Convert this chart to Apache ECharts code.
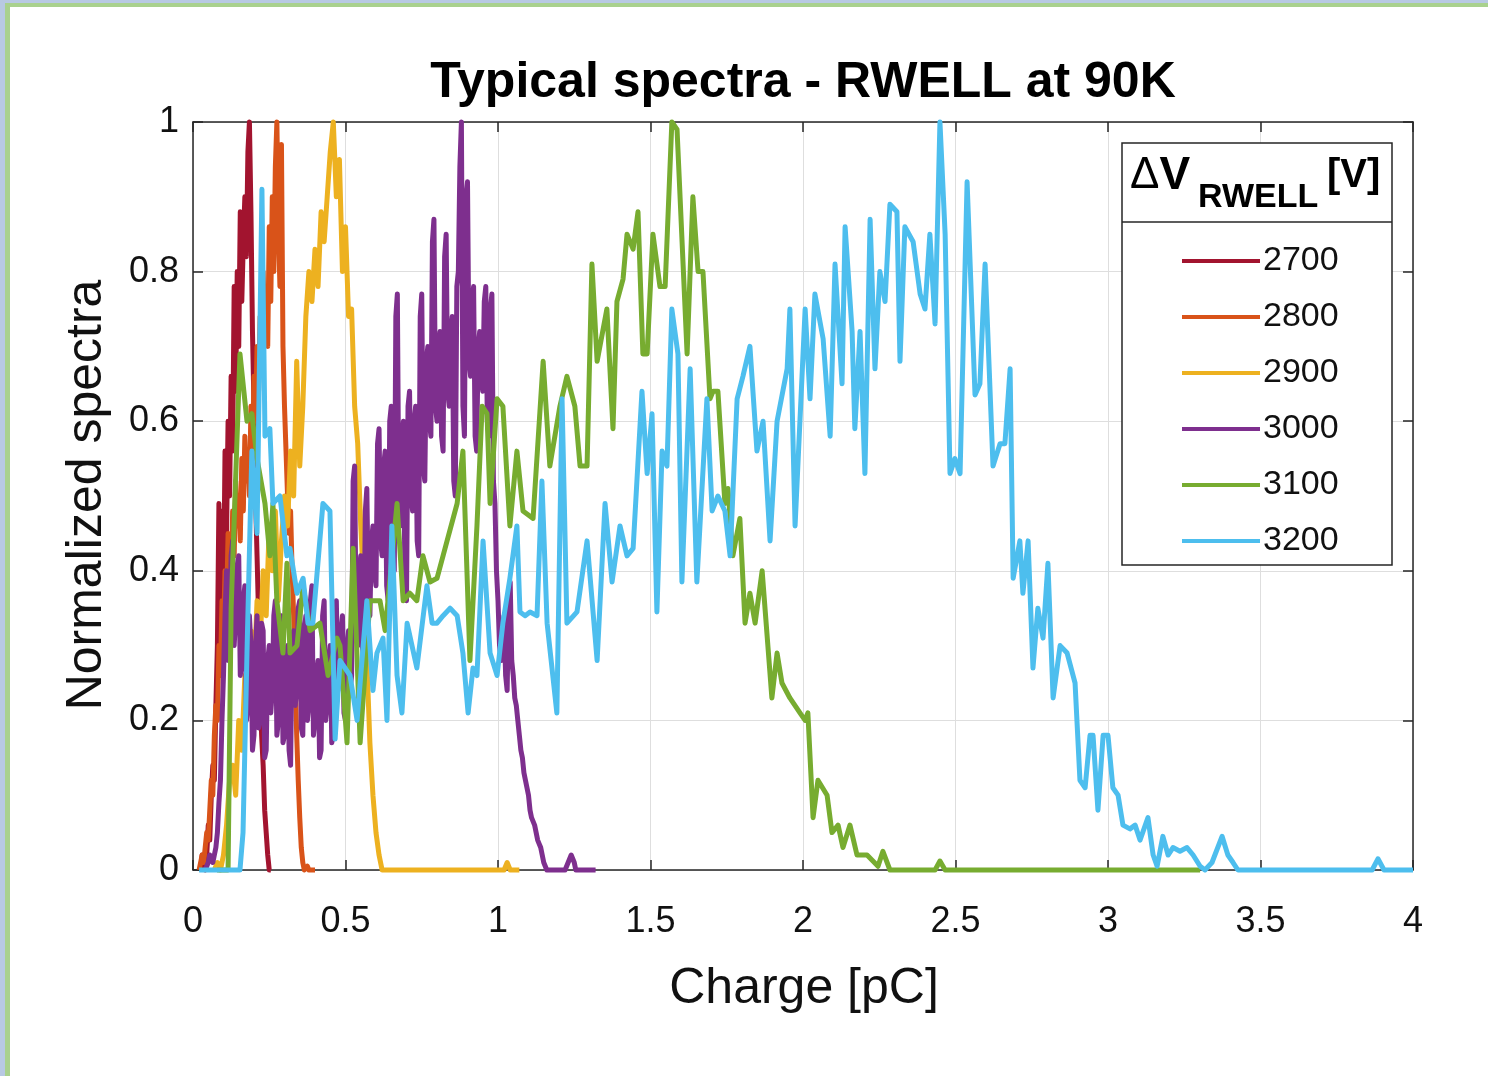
<!DOCTYPE html>
<html>
<head>
<meta charset="utf-8">
<script src="https://cdn.jsdelivr.net/npm/echarts@6/dist/echarts.min.js"></script>
<style>
  html, body { margin: 0; padding: 0; background: #ffffff; }
  #chart { width: 1488px; height: 1076px; }
</style>
</head>
<body>
<div id="chart"></div>
<script>
// ---- Data -------------------------------------------------------------
const voltages = ['2700', '2800', '2900', '3000', '3100', '3200'];
const xTickValues = [0, 0.5, 1, 1.5, 2, 2.5, 3, 3.5, 4];
const yTickValues = [0, 0.2, 0.4, 0.6, 0.8, 1];

// Histogram spectra with fixed bin width: first bin centre and bin width [pC]
const start2700 = 0.025, width2700 = 0.005;
const spectrum2700 = [0.00,0.02,0.02,0.00,0.02,0.06,0.04,0.10,0.14,0.12,0.22,0.30,0.49,0.28,0.48,0.36,
  0.56,0.45,0.60,0.50,0.66,0.56,0.78,0.64,0.80,0.70,0.88,0.76,0.84,0.90,0.82,0.96,1.00,0.88,0.72,0.62,
  0.50,0.42,0.34,0.26,0.18,0.14,0.08,0.05,0.02,0.00,0.00];

const start2800 = 0.02, width2800 = 0.005;
const spectrum2800 = [0.00,0.01,0.02,0.01,0.03,0.05,0.04,0.08,0.12,0.10,0.18,0.22,0.20,0.30,0.26,0.36,
  0.32,0.40,0.35,0.45,0.40,0.38,0.48,0.42,0.52,0.46,0.50,0.44,0.55,0.48,0.58,0.52,0.56,0.50,0.62,0.56,
  0.66,0.60,0.70,0.64,0.74,0.68,0.80,0.72,0.78,0.70,0.86,0.76,0.90,0.80,0.94,1.00,0.86,0.78,0.97,0.70,
  0.62,0.56,0.50,0.45,0.48,0.40,0.34,0.26,0.18,0.12,0.07,0.03,0.01,0.00,0.00,0.005,0.00,0.00,0.00,0.00,0.00];

const start2900 = 0.07, width2900 = 0.01;
const spectrum2900 = [0.00,0.01,0.00,0.02,0.06,0.12,0.14,0.10,0.20,0.16,0.26,0.22,0.32,0.26,0.36,0.30,
  0.40,0.34,0.46,0.40,0.48,0.36,0.44,0.50,0.46,0.56,0.50,0.68,0.54,0.62,0.74,0.80,0.76,0.83,0.78,0.88,
  0.84,0.90,0.96,1.00,0.90,0.95,0.80,0.86,0.74,0.75,0.62,0.57,0.46,0.38,0.28,0.17,0.10,0.05,0.02,0.00,
  0,0,0,0,0,0,0,0,0,0,0,0,0,0,0,0,0,0,0,0,0,0,0,0,0,0,0,0,0,0,0,0,0,0,0,0,0,0,0,0,
  0.01,0,0,0,0];

const start3000 = 0.04, width3000 = 0.005;
const spectrum3000 = [0.00,0.00,0.01,0.02,0.02,0.01,0.01,0.03,0.05,0.09,0.12,0.20,0.26,0.34,0.40,0.28,
  0.30,0.42,0.44,0.30,0.34,0.40,0.42,0.26,0.28,0.36,0.38,0.20,0.22,0.34,0.30,0.16,0.18,0.30,0.34,0.19,
  0.20,0.33,0.32,0.15,0.16,0.28,0.30,0.21,0.24,0.34,0.36,0.18,0.20,0.32,0.34,0.17,0.18,0.28,0.30,0.16,
  0.14,0.30,0.32,0.22,0.24,0.35,0.36,0.19,0.18,0.32,0.34,0.20,0.22,0.36,0.38,0.18,0.20,0.26,0.28,0.15,
  0.16,0.34,0.36,0.20,0.22,0.28,0.30,0.17,0.18,0.34,0.36,0.24,0.26,0.32,0.34,0.21,0.20,0.30,0.32,0.24,
  0.26,0.52,0.54,0.32,0.30,0.40,0.42,0.30,0.28,0.48,0.51,0.36,0.34,0.44,0.46,0.40,0.38,0.57,0.59,0.44,
  0.42,0.54,0.56,0.38,0.36,0.60,0.62,0.42,0.40,0.74,0.77,0.48,0.46,0.58,0.60,0.38,0.36,0.62,0.64,0.50,
  0.48,0.60,0.62,0.44,0.42,0.74,0.77,0.54,0.52,0.68,0.70,0.60,0.58,0.84,0.87,0.62,0.60,0.70,0.72,0.58,
  0.56,0.82,0.85,0.64,0.62,0.72,0.74,0.52,0.50,0.78,0.80,0.94,1.00,0.62,0.58,0.90,0.92,0.68,0.66,0.76,
  0.78,0.58,0.56,0.70,0.72,0.66,0.64,0.76,0.78,0.60,0.58,0.75,0.77,0.52,0.49,0.40,0.36,0.30,0.28,0.32,
  0.34,0.26,0.24,0.36,0.385,0.28,0.26,0.23,0.22,0.20,0.18,0.16,0.15,0.13,0.12,0.11,0.10,0.08,0.07,0.065,
  0.06,0.05,0.04,0.035,0.03,0.02,0.01,0.005,0.00,0.00,0.00,0.00,0.00,0.00,0.00,0.00,0.00,0.00,0.00,0.00,
  0.00,0.00,0.01,0.015,0.02,0.015,0.01,0.00,0.00,0.00,0.00,0.00,0.00,0.00,0.00,0.00,0.00,0.00,0.00,0.00,
  0.00];

// Spectra sampled at explicit charges [pC]
const charge3100 = [0.079,0.115,0.125,0.154,0.177,0.193,0.210,0.236,0.252,0.262,0.275,0.295,0.308,0.318,
  0.341,0.361,0.384,0.416,0.443,0.472,0.482,0.505,0.525,0.548,0.580,0.613,0.630,0.669,0.689,0.711,0.734,
  0.754,0.777,0.800,0.833,0.866,0.885,0.908,0.931,0.948,0.964,0.974,0.997,1.016,1.039,1.062,1.082,1.115,
  1.148,1.170,1.203,1.226,1.252,1.269,1.292,1.308,1.325,1.357,1.377,1.390,1.410,1.423,1.443,1.459,1.475,
  1.489,1.508,1.531,1.548,1.570,1.587,1.620,1.639,1.656,1.672,1.695,1.705,1.721,1.744,1.754,1.770,1.793,
  1.810,1.826,1.843,1.866,1.898,1.915,1.931,1.957,1.990,2.007,2.016,2.033,2.049,2.079,2.095,2.115,2.131,
  2.154,2.177,2.210,2.246,2.262,2.285,2.433,2.449,2.466,3.302];
const spectrum3100 = [0.00,0.00,0.35,0.69,0.60,0.61,0.55,0.49,0.42,0.49,0.36,0.29,0.41,0.29,
  0.30,0.38,0.32,0.33,0.26,0.31,0.30,0.17,0.43,0.17,0.36,0.36,0.32,0.49,0.36,0.37,0.36,
  0.42,0.385,0.39,0.44,0.49,0.56,0.28,0.46,0.62,0.61,0.49,0.63,0.62,0.46,0.56,0.48,0.47,
  0.68,0.54,0.62,0.66,0.62,0.54,0.54,0.81,0.68,0.75,0.59,0.76,0.79,0.85,0.83,0.88,0.69,
  0.69,0.85,0.78,0.78,1.00,0.99,0.69,0.90,0.80,0.80,0.63,0.64,0.64,0.49,0.51,0.42,0.47,
  0.33,0.37,0.33,0.40,0.23,0.29,0.25,0.23,0.21,0.20,0.21,0.07,0.12,0.10,0.05,0.06,0.03,
  0.06,0.02,0.02,0.005,0.025,0.00,0.00,0.012,0.00,0.00];

const charge3200 = [0.020,0.154,0.164,0.177,0.193,0.210,0.226,0.236,0.252,0.262,0.285,0.308,0.318,0.341,
  0.361,0.377,0.393,0.426,0.449,0.466,0.482,0.515,0.538,0.570,0.590,0.603,0.623,0.636,0.652,0.669,0.685,
  0.702,0.734,0.767,0.784,0.800,0.820,0.843,0.866,0.885,0.902,0.918,0.931,0.951,0.974,0.997,1.016,1.039,
  1.062,1.072,1.089,1.105,1.128,1.144,1.161,1.193,1.210,1.226,1.259,1.292,1.325,1.351,1.374,1.400,1.423,
  1.443,1.472,1.489,1.505,1.521,1.538,1.554,1.570,1.590,1.603,1.630,1.652,1.685,1.702,1.721,1.744,1.761,
  1.784,1.803,1.826,1.849,1.869,1.892,1.915,1.948,1.957,1.974,2.007,2.023,2.039,2.066,2.089,2.105,2.128,
  2.138,2.161,2.170,2.187,2.203,2.220,2.236,2.252,2.269,2.285,2.308,2.318,2.334,2.361,2.384,2.400,2.416,
  2.433,2.449,2.466,2.482,2.498,2.515,2.538,2.564,2.580,2.597,2.623,2.646,2.662,2.679,2.689,2.711,2.721,
  2.738,2.754,2.770,2.787,2.803,2.820,2.843,2.866,2.892,2.908,2.925,2.941,2.951,2.967,2.984,3.000,3.016,
  3.033,3.049,3.072,3.089,3.105,3.131,3.148,3.161,3.180,3.197,3.213,3.236,3.259,3.279,3.302,3.318,3.341,
  3.374,3.393,3.410,3.426,3.866,3.885,3.905,4.000];
const spectrum3200 = [0.00,0.00,0.05,0.29,0.56,0.45,0.91,0.58,0.59,0.49,0.50,0.42,0.43,0.37,
  0.39,0.33,0.33,0.49,0.48,0.175,0.28,0.26,0.20,0.36,0.24,0.29,0.31,0.20,0.46,0.26,0.21,
  0.33,0.27,0.38,0.33,0.33,0.34,0.35,0.34,0.29,0.21,0.27,0.26,0.44,0.29,0.26,0.33,0.39,
  0.46,0.345,0.34,0.345,0.34,0.52,0.33,0.21,0.63,0.33,0.345,0.44,0.28,0.49,0.385,0.46,0.42,
  0.43,0.64,0.53,0.61,0.345,0.56,0.54,0.75,0.69,0.385,0.67,0.385,0.63,0.48,0.50,0.48,0.42,
  0.63,0.66,0.70,0.56,0.60,0.44,0.60,0.67,0.75,0.46,0.75,0.63,0.77,0.71,0.58,0.81,0.65,
  0.86,0.72,0.59,0.72,0.53,0.87,0.67,0.80,0.76,0.89,0.88,0.68,0.86,0.84,0.77,0.75,0.85,
  0.73,1.00,0.85,0.53,0.55,0.53,0.92,0.635,0.65,0.81,0.54,0.57,0.57,0.67,0.39,0.44,0.37,
  0.44,0.27,0.35,0.31,0.41,0.23,0.30,0.29,0.25,0.12,0.11,0.18,0.18,0.08,0.18,0.18,0.11,
  0.10,0.06,0.055,0.06,0.04,0.07,0.02,0.005,0.045,0.02,0.03,0.025,0.03,0.02,0.005,0.00,0.01,
  0.045,0.02,0.01,0.00,0.00,0.015,0.00,0.00];

// ---- Build series points ----------------------------------------------
function binned(start, width, values) {
  return values.map((v, i) => [+(start + i * width).toFixed(4), v]);
}
function paired(charges, values) {
  return charges.map((q, i) => [q, values[i]]);
}
const seriesData = [
  binned(start2700, width2700, spectrum2700),
  binned(start2800, width2800, spectrum2800),
  binned(start2900, width2900, spectrum2900),
  binned(start3000, width3000, spectrum3000),
  paired(charge3100, spectrum3100),
  paired(charge3200, spectrum3200)
];

// ---- Styling ----------------------------------------------------------
const lineColors = ['#A2142F', '#D95319', '#EDB120', '#7E2F8E', '#77AC30', '#4DBEEE'];
const FONT = '"Liberation Sans", Arial, Helvetica, sans-serif';
const INK = '#262626';
const GRID_C = '#dedede';

const chart = echarts.init(document.getElementById('chart'), null, { renderer: 'canvas' });

const tickFmt = v => String(+v.toFixed(2));

const option = {
  animation: false,
  backgroundColor: '#ffffff',
  color: lineColors,
  grid: { left: 193, right: 75, top: 122, bottom: 206, containLabel: false },
  xAxis: [
    {
      type: 'value', min: xTickValues[0], max: xTickValues[xTickValues.length - 1], interval: 0.5,
      position: 'bottom',
      axisLine: { show: true, onZero: false, lineStyle: { color: INK, width: 1.5 } },
      axisTick: { show: true, inside: true, length: 10, lineStyle: { color: INK, width: 1.5 } },
      axisLabel: { show: true, margin: 34, color: '#111', fontSize: 36, fontFamily: FONT, formatter: tickFmt },
      splitLine: { show: true, lineStyle: { color: GRID_C, width: 1 } }
    },
    {
      type: 'value', min: xTickValues[0], max: xTickValues[xTickValues.length - 1], interval: 0.5,
      position: 'top',
      axisLine: { show: true, onZero: false, lineStyle: { color: INK, width: 1.5 } },
      axisTick: { show: true, inside: true, length: 10, lineStyle: { color: INK, width: 1.5 } },
      axisLabel: { show: false },
      splitLine: { show: false }
    }
  ],
  yAxis: [
    {
      type: 'value', min: yTickValues[0], max: yTickValues[yTickValues.length - 1], interval: 0.2,
      position: 'left',
      axisLine: { show: true, onZero: false, lineStyle: { color: INK, width: 1.5 } },
      axisTick: { show: true, inside: true, length: 10, lineStyle: { color: INK, width: 1.5 } },
      axisLabel: { show: true, margin: 14, color: '#111', fontSize: 36, fontFamily: FONT, formatter: tickFmt },
      splitLine: { show: true, lineStyle: { color: GRID_C, width: 1 } }
    },
    {
      type: 'value', min: yTickValues[0], max: yTickValues[yTickValues.length - 1], interval: 0.2,
      position: 'right',
      axisLine: { show: true, onZero: false, lineStyle: { color: INK, width: 1.5 } },
      axisTick: { show: true, inside: true, length: 10, lineStyle: { color: INK, width: 1.5 } },
      axisLabel: { show: false },
      splitLine: { show: false }
    }
  ],
  legend: {
    show: true,
    orient: 'vertical',
    left: 1177,
    top: 236,
    z: 10,
    icon: 'rect',
    itemWidth: 78,
    itemHeight: 4,
    itemGap: 16,
    selectedMode: false,
    data: voltages,
    textStyle: { fontSize: 34, lineHeight: 40, color: '#111', fontFamily: FONT, padding: [0, 0, 0, -2] }
  },
  graphic: [
    // slide frame
    { type: 'rect', z: 0, silent: true, shape: { x: 0, y: 0, width: 1488, height: 3 }, style: { fill: '#b8c9e3' } },
    { type: 'rect', z: 0, silent: true, shape: { x: 0, y: 3, width: 1488, height: 4 }, style: { fill: '#a9d18e' } },
    { type: 'rect', z: 0, silent: true, shape: { x: 0, y: 0, width: 5, height: 1076 }, style: { fill: '#b8c9e3' } },
    { type: 'rect', z: 0, silent: true, shape: { x: 5, y: 3, width: 5, height: 1073 }, style: { fill: '#a9d18e' } },
    // title
    { type: 'text', z: 10, silent: true, x: 803, y: 83,
      style: { text: 'Typical spectra - RWELL at 90K', fill: '#000', font: 'bold 50px ' + FONT,
               align: 'center', verticalAlign: 'middle' } },
    // axis titles
    { type: 'text', z: 10, silent: true, x: 804, y: 989,
      style: { text: 'Charge [pC]', fill: '#111', font: '50px ' + FONT, align: 'center', verticalAlign: 'middle' } },
    { type: 'text', z: 10, silent: true, x: 87, y: 495, rotation: Math.PI / 2,
      style: { text: 'Normalized spectra', fill: '#111', font: '50px ' + FONT, align: 'center', verticalAlign: 'middle' } },
    // legend box with header
    { type: 'rect', z: 8, silent: true, shape: { x: 1122, y: 143, width: 270, height: 422 },
      style: { fill: '#ffffff', stroke: INK, lineWidth: 1.5 } },
    { type: 'line', z: 9, silent: true, shape: { x1: 1122, y1: 222, x2: 1392, y2: 222 },
      style: { stroke: INK, lineWidth: 1.5 } },
    { type: 'text', z: 10, silent: true, x: 1130, y: 176,
      style: { text: '{d|Δ}{v|V}', verticalAlign: 'middle', align: 'left',
               rich: { d: { fontSize: 44, fontFamily: FONT, fill: '#000' },
                       v: { fontSize: 46, fontWeight: 'bold', fontFamily: FONT, fill: '#000' } } } },
    { type: 'text', z: 10, silent: true, x: 1198, y: 198,
      style: { text: 'RWELL', fill: '#000', font: 'bold 34px ' + FONT, align: 'left', verticalAlign: 'middle' } },
    { type: 'text', z: 10, silent: true, x: 1327, y: 176,
      style: { text: '[V]', fill: '#000', font: 'bold 40px ' + FONT, align: 'left', verticalAlign: 'middle' } }
  ],
  series: voltages.map((name, i) => ({
    name: name,
    type: 'line',
    xAxisIndex: 0,
    yAxisIndex: 0,
    data: seriesData[i],
    showSymbol: false,
    symbol: 'none',
    clip: false,
    z: 2 + i * 0.01,
    lineStyle: { color: lineColors[i], width: 5, join: 'round' },
    itemStyle: { color: lineColors[i] }
  }))
};

chart.setOption(option);
</script>
</body>
</html>
